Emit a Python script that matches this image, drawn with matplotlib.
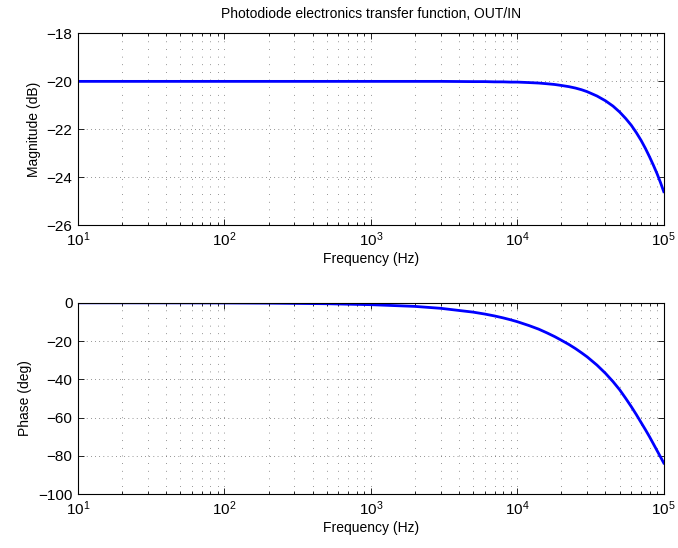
import numpy as np
import matplotlib.pyplot as plt
from matplotlib.ticker import LogLocator, NullFormatter, FixedLocator

plt.rcParams['font.family'] = ['Liberation Sans', 'DejaVu Sans']
plt.rcParams['mathtext.default'] = 'regular'
plt.rcParams['font.size'] = 10

# frequency points (Hz)
freq = [10, 20, 50, 100, 200, 500, 1e3, 2e3, 3e3, 5e3, 6e3, 7e3, 8e3, 9e3,
        1e4, 1.2e4, 1.4e4, 1.6e4, 1.8e4, 2e4, 2.25e4, 2.5e4, 2.75e4, 3e4,
        3.5e4, 4e4, 4.5e4, 5e4, 5.5e4, 6e4, 6.5e4, 7e4, 7.5e4, 8e4, 8.5e4,
        9e4, 9.5e4, 1e5]

# magnitude in dB
mag_db = [-20.0, -20.0, -20.0, -20.0, -20.0, -20.0, -20.0, -20.0, -20.0,
          -20.01, -20.01, -20.02, -20.02, -20.03, -20.03, -20.05, -20.07,
          -20.10, -20.13, -20.17, -20.22, -20.28, -20.35, -20.43, -20.61,
          -20.81, -21.03, -21.28, -21.55, -21.83, -22.14, -22.46, -22.80,
          -23.15, -23.50, -23.85, -24.22, -24.6]

# phase in degrees
phase_deg = [-0.01, -0.02, -0.05, -0.1, -0.2, -0.5, -1.0, -1.9, -2.9, -4.9,
             -5.9, -6.9, -7.9, -8.9, -9.9, -11.9, -13.8, -15.8, -17.7, -19.6,
             -21.8, -24.0, -26.2, -28.3, -32.6, -36.9, -41.2, -45.5, -50.0,
             -54.3, -58.5, -62.6, -66.4, -70.1, -73.8, -77.3, -80.6, -83.8]

mag_ticks = [-26, -24, -22, -20, -18]
phase_ticks = [-100, -80, -60, -40, -20, 0]

fig = plt.figure(figsize=(6.78, 5.48), dpi=100)
ax1 = fig.add_axes([0.115, 0.589, 0.864, 0.350])
ax2 = fig.add_axes([0.115, 0.0985, 0.864, 0.349])


def style(ax, yticks):
    ax.set_xscale('log')
    ax.set_xlim(10, 1e5)
    ax.set_ylim(yticks[0], yticks[-1])
    ax.yaxis.set_major_locator(FixedLocator(yticks))
    ax.xaxis.set_major_locator(LogLocator(base=10))
    ax.xaxis.set_minor_locator(LogLocator(base=10, subs=np.arange(2, 10)))
    ax.xaxis.set_minor_formatter(NullFormatter())
    ax.tick_params(which='both', direction='in', top=True, right=True,
                   labelsize=11, width=0.6)
    ax.tick_params(which='major', length=4, pad=4)
    ax.tick_params(which='minor', length=2)
    # MATLAB-like sparse dotted grid
    ax.grid(which='major', axis='y', color='0.2', linestyle=(0, (1, 5)), linewidth=0.5)
    ax.grid(which='both', axis='x', color='0.2', linestyle=(0, (1, 10)), linewidth=0.5)
    for s in ax.spines.values():
        s.set_linewidth(0.8)
    ax.set_xlabel('Frequency (Hz)', labelpad=2)


ax1.plot(freq, mag_db, color=(0, 0, 1), linewidth=2)
style(ax1, mag_ticks)
ax1.set_ylabel('Magnitude (dB)')
ax1.set_title('Photodiode electronics transfer function, OUT/IN', fontsize=10, pad=11)

ax2.plot(freq, phase_deg, color=(0, 0, 1), linewidth=2)
style(ax2, phase_ticks)
ax2.set_ylabel('Phase (deg)')

fig.savefig('out.png', dpi=100)
